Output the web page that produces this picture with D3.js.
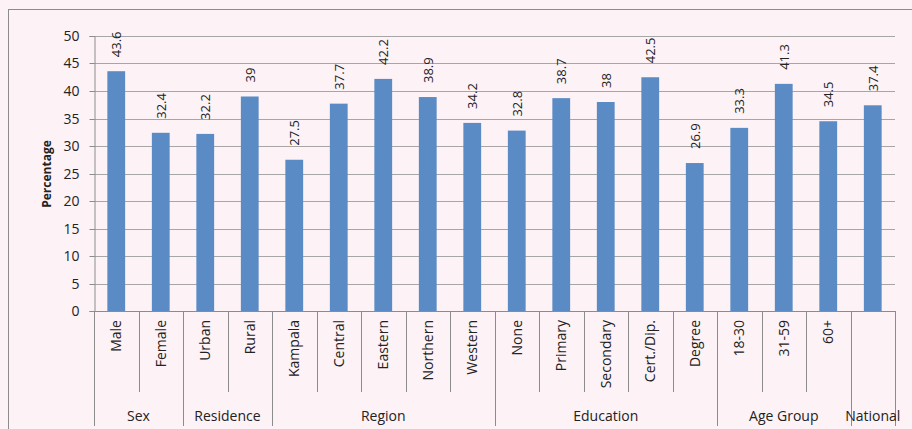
<!DOCTYPE html>
<head>
<meta charset="utf-8">
<script src="https://d3js.org/d3.v7.min.js"></script>
</head>
<style>
body { margin: 0; background: #fdf2f6; }
text { font-family: "Open Sans", sans-serif; fill: #222; }
</style>
<body>
<script>
var categories = ["Male", "Female", "Urban", "Rural", "Kampala", "Central", "Eastern", "Northern", "Western",
  "None", "Primary", "Secondary", "Cert./Dip.", "Degree", "18-30", "31-59", "60+", ""];
var values = [43.6, 32.4, 32.2, 39, 27.5, 37.7, 42.2, 38.9, 34.2, 32.8, 38.7, 38, 42.5, 26.9, 33.3, 41.3, 34.5, 37.4];
var valueLabels = ["43.6", "32.4", "32.2", "39", "27.5", "37.7", "42.2", "38.9", "34.2", "32.8", "38.7", "38", "42.5", "26.9", "33.3", "41.3", "34.5", "37.4"];
var groups = ["Sex", "Residence", "Region", "Education", "Age Group", "National"];
var groupSizes = [2, 2, 5, 5, 3, 1];
var yTicks = [0, 5, 10, 15, 20, 25, 30, 35, 40, 45, 50];

var W = 912, H = 429;
var svg = d3.select("body").append("svg").attr("width", W).attr("height", H);

// outer frame
svg.append("rect").attr("x", 8.5).attr("y", 9.5).attr("width", 920).attr("height", 440)
  .attr("fill", "none").attr("stroke", "#8c8c8c");

var keys = categories.map(function(d, i) { return i; });
var x = d3.scaleBand().domain(keys).range([94, 895]).paddingInner(0.6).paddingOuter(0.3);
var y = d3.scaleLinear().domain([0, 50]).range([311, 36]);

// gridlines
svg.append("g").selectAll("line").data(yTicks.slice(1)).enter().append("line")
  .attr("x1", 94).attr("x2", 895)
  .attr("y1", function(d) { return Math.round(y(d)) + 0.5; })
  .attr("y2", function(d) { return Math.round(y(d)) + 0.5; })
  .attr("stroke", "#a6a6a6");

var yAxis = svg.append("g").attr("transform", "translate(94.5,0)")
  .call(d3.axisLeft(y).tickValues(yTicks).tickSize(5).tickPadding(10));
yAxis.select(".domain").attr("stroke", "#8c8c8c");
yAxis.selectAll(".tick line").attr("stroke", "#8c8c8c");
yAxis.selectAll(".tick text").style("font-size", "14px").attr("fill", "#222");
yAxis.selectAll(".tick").attr("transform", function(d) { return "translate(0," + (Math.round(y(d)) + 0.5) + ")"; });

svg.append("text").attr("transform", "translate(51,174) rotate(-90)")
  .attr("text-anchor", "middle").style("font-size", "12px").style("font-weight", "bold")
  .text("Percentage");

// bars
svg.append("g").selectAll("rect").data(values).enter().append("rect")
  .attr("x", function(d, i) { return x(i); })
  .attr("width", x.bandwidth())
  .attr("y", function(d) { return y(d); })
  .attr("height", function(d) { return y(0) - y(d); })
  .attr("fill", "#5b8bc4");

// value labels
svg.append("g").selectAll("text").data(values).enter().append("text")
  .attr("transform", function(d, i) {
    return "translate(" + (x(i) + x.bandwidth() / 2 + 5) + "," + (y(d) - 14) + ") rotate(-90)";
  })
  .style("font-size", "13px")
  .text(function(d, i) { return valueLabels[i]; });

// x axis line
svg.append("line").attr("x1", 94).attr("x2", 895).attr("y1", 311.5).attr("y2", 311.5).attr("stroke", "#8c8c8c");

// category labels
svg.append("g").selectAll("text").data(categories).enter().append("text")
  .attr("transform", function(d, i) {
    return "translate(" + (x(i) + x.bandwidth() / 2 + 5) + ",320) rotate(-90)";
  })
  .attr("text-anchor", "end")
  .style("font-size", "14px")
  .text(function(d) { return d; });

// separators
var step = x.step();
var x0 = 94;
var bounds = [];
var start = 0;
groupSizes.forEach(function(n, g) {
  for (var k = 0; k < n; k++) bounds.push({ i: start + k, long: k === 0 });
  start += n;
});
bounds.push({ i: categories.length, long: true });
svg.append("g").selectAll("line").data(bounds).enter().append("line")
  .attr("x1", function(d) { return Math.round(x0 + d.i * step) + 0.5; })
  .attr("x2", function(d) { return Math.round(x0 + d.i * step) + 0.5; })
  .attr("y1", 311).attr("y2", function(d) { return d.long ? 426 : 392; })
  .attr("stroke", "#8c8c8c");

// group labels
start = 0;
var gl = groups.map(function(g, j) {
  var c = x0 + (start + groupSizes[j] / 2) * step;
  start += groupSizes[j];
  return { name: g, cx: c };
});
svg.append("g").selectAll("text").data(gl).enter().append("text")
  .attr("x", function(d) { return d.cx; }).attr("y", 421)
  .attr("text-anchor", "middle").style("font-size", "14px")
  .text(function(d) { return d.name; });
</script>
</body>
